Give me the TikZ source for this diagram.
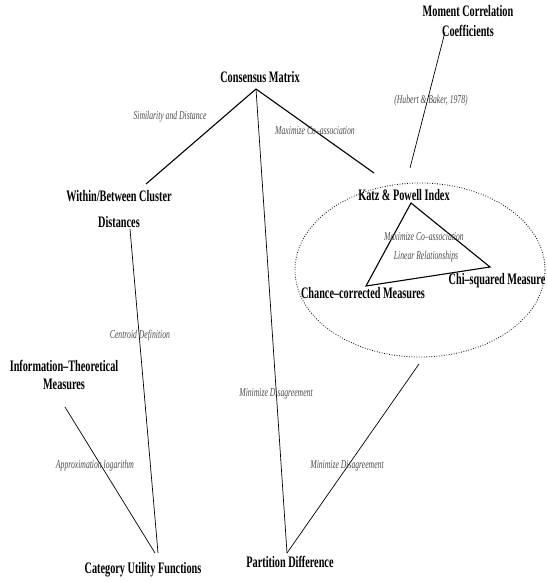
\documentclass[tikz,border=0pt]{standalone}
\usepackage{fontspec}
\setmainfont{Liberation Serif}
\newfontfamily\condfont[FakeStretch=0.64]{Liberation Serif}
\usetikzlibrary{shapes.geometric}
\begin{document}
\begin{tikzpicture}[x=1pt,y=-1pt,
  concept/.style={font=\condfont\bfseries\fontsize{16}{19}\selectfont, inner sep=0pt, align=center, anchor=base},
  rel/.style={font=\condfont\itshape\fontsize{12}{13}\selectfont, text=black!70, inner sep=0pt, anchor=base},
  link/.style={draw=black, line width=0.7pt},
  strong/.style={draw=black, line width=1.1pt},
  groupring/.style={ellipse, draw=black, line width=0.8pt, dash pattern=on 0.8pt off 1.7pt, inner sep=0pt}]
\path[use as bounding box, fill=white] (0,0) rectangle (546,583);

% concept nodes (base = baseline of the last line)
\node[concept] (moment) at (468,37) {Moment Correlation\\[1pt]Coefficients};
\node[concept] (consensus) at (260,83) {Consensus Matrix};
\node[concept] (within) at (119,227) {Within/Between Cluster\\[7pt]Distances};
\node[concept] (katz) at (404,200) {Katz \& Powell Index};
\node[concept] (chi) at (497,284) {Chi–squared Measure};
\node[concept] (chance) at (363,298) {Chance–corrected Measures};
\node[concept] (info) at (64,389) {Information–Theoretical\\[-1pt]Measures};
\node[concept] (partition) at (290,567) {Partition Difference};
\node[concept] (category) at (143,573) {Category Utility Functions};
\node[groupring, minimum width=250pt, minimum height=174pt] (cluster) at (420,270) {};

% connector end points
\coordinate (cm-out) at (256,89);
\coordinate (wb-top) at (146,184);
\coordinate (wb-bot) at (130,229);
\coordinate (kp-top) at (374,173);
\coordinate (kp-hub) at (410,168);
\coordinate (mc-bot) at (445,32);
\coordinate (pd-top) at (287,553);
\coordinate (cu-top1) at (158,553);
\coordinate (cu-top2) at (155,553);
\coordinate (it-bot) at (65,407);
\coordinate (cl-bot) at (419,364);
\coordinate (t-katz) at (411,203);
\coordinate (t-chi) at (490,267);
\coordinate (t-chance) at (366,286);

% connectors
\draw[strong] (cm-out) -- (wb-top);
\draw[strong] (cm-out) -- (kp-top);
\draw[link] (cm-out) -- (pd-top);
\draw[link] (mc-bot) -- (kp-hub);
\draw[link] (wb-bot) -- (cu-top1);
\draw[link] (it-bot) -- (cu-top2);
\draw[link] (cl-bot) -- (pd-top);
\draw[strong] (t-katz) -- (t-chi) -- (t-chance) -- cycle;

% relation labels
\node[rel] (l-sim) at (170,120) {Similarity and Distance};
\node[rel] (l-max1) at (315,134) {Maximize Co–association};
\node[rel] (l-hub) at (431,103) {(Hubert \& Baker, 1978)};
\node[rel] (l-max2) at (424,240) {Maximize Co–association};
\node[rel] (l-lin) at (426,259) {Linear Relationships};
\node[rel] (l-cen) at (140,338) {Centroid Definition};
\node[rel] (l-min1) at (276,396) {Minimize Disagreement};
\node[rel] (l-min2) at (347,468) {Minimize Disagreement};
\node[rel] (l-app) at (95,468) {Approximation logarithm};
\end{tikzpicture}
\end{document}
